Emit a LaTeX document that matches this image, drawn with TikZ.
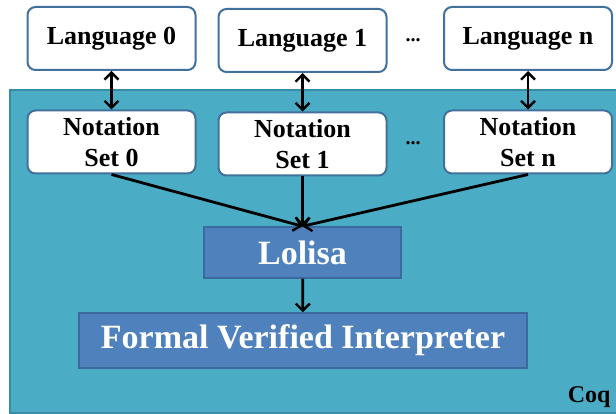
\documentclass[tikz,border=0pt]{standalone}
\usepackage{fontspec}
\setmainfont{Liberation Serif}
\usetikzlibrary{arrows.meta, positioning}

\definecolor{coqbg}{HTML}{4BACC6}
\definecolor{coqline}{HTML}{3A8DA6}
\definecolor{boxline}{HTML}{41719C}
\definecolor{lolfill}{HTML}{4F81BD}
\definecolor{lolline}{HTML}{3C6A9F}

\tikzset{
	langbox/.style={draw=boxline, line width=2pt, fill=white, rounded corners=8pt,
		minimum width=168pt, minimum height=63pt, align=center,
		font=\fontsize{26}{31}\selectfont\bfseries},
	corebox/.style={draw=lolline, line width=1.5pt, fill=lolfill, text=white,
		font=\fontsize{34}{38}\selectfont\bfseries},
	link/.style={line width=2.8pt},
	dots/.style={font=\fontsize{20}{20}\selectfont\bfseries}
}

\begin{document}
\begin{tikzpicture}[x=1pt,y=-1pt,>={Straight Barb[length=7pt,width=14pt,line width=2.4pt]}]
	\useasboundingbox (0,0) rectangle (616,414);
	
	\begin{scope}
		\clip (0,0) rectangle (616,414);
		\draw[coqline, fill=coqbg, line width=2pt] (10,90.5) rectangle (630,412.5);
	\end{scope}
	
	\node[langbox] (lang_0) at (111.5,38.5) {Language 0};
	\node[langbox] (lang_1) at (302.5,40.5) {Language 1};
	\node[langbox] (lang_n) at (528,38.5)   {Language n};
	\node[dots]    (ldots)  at (413,40)     {...};
	
	\node[langbox] (not_0) at (111.5,142) {Notation\\Set 0};
	\node[langbox] (not_1) at (302.5,144) {Notation\\Set 1};
	\node[langbox] (not_n) at (528,142)   {Notation\\Set n};
	\node[dots]    (ndots) at (413,143)   {...};
	
	\node[corebox, minimum width=197pt, minimum height=51pt] (lolisa) at (302.5,252.5) {Lolisa};
	\node[corebox, minimum width=448pt, minimum height=55pt] (fvi) at (303,340.5) {Formal Verified Interpreter};
	
	\node[font=\fontsize{24}{24}\selectfont\bfseries, anchor=base east] (coq) at (614,402) {Coq};
	
	\path[link]
	(lang_0) edge [<->] (not_0)
	(lang_1) edge [<->] (not_1)
	(lang_n) edge [<->] (not_n)
	(not_0.south) edge [->] (lolisa.north)
	(not_1.south) edge [->] (lolisa.north)
	(not_n.south) edge [->] (lolisa.north)
	(lolisa) edge [->] (fvi);
\end{tikzpicture}
\end{document}
